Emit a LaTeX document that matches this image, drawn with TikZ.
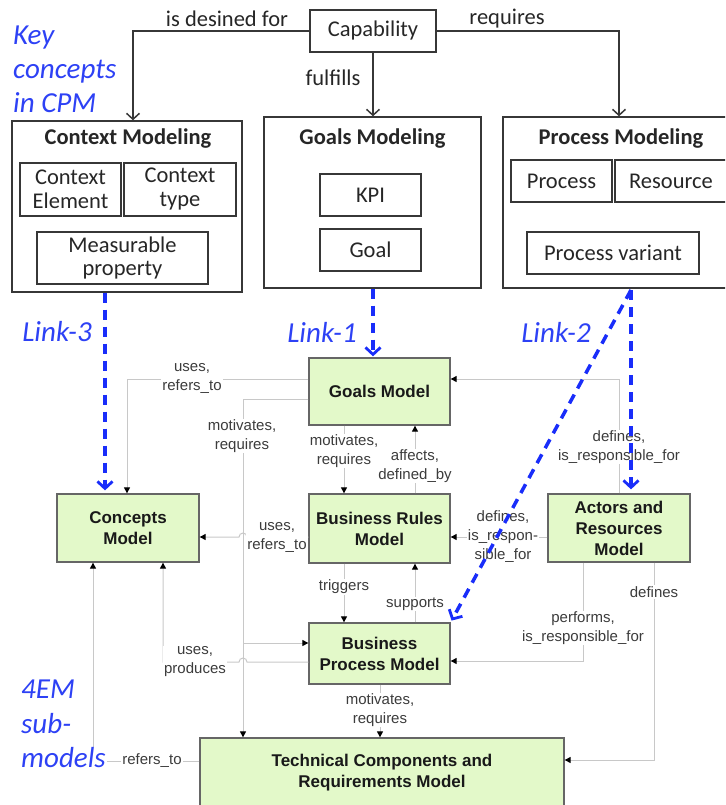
\documentclass[tikz,border=0pt]{standalone}
\usepackage{fontspec}
\setmainfont{Carlito}
\newfontfamily\arialf{Liberation Sans}
\usetikzlibrary{arrows.meta}
\definecolor{boxgreen}{RGB}{227,249,201}
\definecolor{linkblue}{RGB}{25,45,250}
\definecolor{linktext}{RGB}{45,65,245}
\definecolor{conngray}{RGB}{200,200,200}
\definecolor{labgray}{RGB}{60,60,60}
\definecolor{boxline}{RGB}{55,55,55}
\begin{document}
\begin{tikzpicture}[x=1pt,y=-1pt,
  cpmbox/.style={draw=boxline, line width=1.4pt, inner sep=0pt, align=center,
    font=\fontsize{22.5}{25}\selectfont, text=black!85},
  cpmtitle/.style={inner sep=0pt, font=\fontsize{22.5}{25}\selectfont\bfseries, text=black!85},
  toptext/.style={inner sep=0pt, font=\fontsize{22.5}{25}\selectfont, text=black!85},
  submodel/.style={draw=black!60, line width=1.3pt, fill=boxgreen, inner sep=0pt, align=center,
    font=\arialf\fontsize{17}{21}\selectfont\bfseries, text=black!90},
  bluelab/.style={inner sep=0pt, align=left, text=linktext,
    font=\fontsize{29}{34}\selectfont\itshape},
  glab/.style={fill=white, inner sep=1pt, align=center, text=labgray,
    font=\arialf\fontsize{15}{19}\selectfont},
  capar/.style={draw=boxline, line width=1.5pt, -{Straight Barb[length=6pt,width=13pt]}},
  conn/.style={draw=conngray, line width=1pt, -{Triangle[length=6pt,width=6pt,color=black]}},
  linkar/.style={draw=linkblue, line width=3.5pt, dash pattern=on 10pt off 7pt,
    -{Straight Barb[length=7pt,width=15pt,line width=2.8pt]}}
]
\useasboundingbox (0,0) rectangle (725,805);
\clip (0,0) rectangle (725,805);

% ---------- CPM part ----------
\node[cpmbox, minimum width=126pt, minimum height=42pt] (cap) at (373,31) {Capability};
\node[cpmbox, minimum width=230pt, minimum height=171pt] (ctxM) at (127,206.5) {};
\node[cpmbox, minimum width=217pt, minimum height=171pt] (goalsMg) at (372.5,202.5) {};
\node[cpmbox, minimum width=235pt, minimum height=171pt] (procMg) at (620.5,202.5) {};
\node[cpmtitle] (ctxT) at (128,139) {Context Modeling};
\node[cpmtitle] (goalsT) at (372.5,139) {Goals Modeling};
\node[cpmtitle] (procT) at (621,139) {Process Modeling};
\node[cpmbox, minimum width=101pt, minimum height=53pt] (ctxEl) at (70.5,189.5) {Context\\[-1pt]Element};
\node[cpmbox, minimum width=112pt, minimum height=53pt] (ctxTy) at (180,189.5) {Context\\[-1pt]type};
\node[cpmbox, minimum width=171pt, minimum height=52pt] (meas) at (122.5,258) {Measurable\\[-1pt]property};
\node[cpmbox, minimum width=101pt, minimum height=42pt] (kpi) at (370.5,195) {KPI};
\node[cpmbox, minimum width=101pt, minimum height=42pt] (goal) at (370.5,250) {Goal};
\node[cpmbox, minimum width=101pt, minimum height=42pt] (proc) at (561.5,181) {Process};
\node[cpmbox, minimum width=112pt, minimum height=42pt] (res) at (671,181) {Resource};
\node[cpmbox, minimum width=172pt, minimum height=42pt] (pvar) at (613,253) {Process variant};

\draw[capar] (cap.west) -| (ctxM.north -| 133,0);
\draw[capar] (cap.east) -| (procMg.north -| 619,0);
\draw[capar] (cap.south) -- (cap.south |- goalsMg.north);
\node[toptext] (lDes) at (227,19) {is desined for};
\node[toptext] (lReq) at (507,19) {requires};
\node[toptext] (lFul) at (333,78) {fulfills};

% ---------- blue labels ----------
\node[bluelab, anchor=west] (keyc) at (13,69) {Key\\concepts\\in CPM};
\node[bluelab] (l3) at (57,332) {Link-3};
\node[bluelab] (l1) at (322,332) {Link-1};
\node[bluelab] (l2) at (556,332) {Link-2};

% ---------- 4EM sub-models ----------
\node[submodel, minimum width=141pt, minimum height=67pt] (goalsM) at (379.5,391.5) {Goals Model};
\node[submodel, minimum width=142pt, minimum height=68pt] (concepts) at (128,528) {Concepts\\Model};
\node[submodel, minimum width=141pt, minimum height=69pt] (brm) at (379.5,528.5) {Business Rules\\Model};
\node[submodel, minimum width=142pt, minimum height=68pt] (actors) at (619,528) {Actors and\\Resources\\Model};
\node[submodel, minimum width=141pt, minimum height=61pt] (bpm) at (379.5,653.5) {Business\\Process Model};
\node[submodel, minimum width=364pt, minimum height=69pt] (tech) at (382,772.5) {Technical Components and\\Requirements Model};

% ---------- gray connectors ----------
\draw[conn] (goalsM.west |- 0,379) -| (concepts.north -| 127,0);
\draw[conn] (goalsM.west |- 0,399) -| (tech.north -| 243,0);
\draw[conn] (goalsM.west |- 0,399) -| (243,643) -- (bpm.west |- 0,643);
\draw[conn] (goalsM.south -| 344,0) -- (brm.north -| 344,0);
\draw[conn] (brm.north -| 415,0) -- (goalsM.south -| 415,0);
\draw[conn] (brm.west |- 0,537) -- (247,537) arc[start angle=0,end angle=-180,radius=4] -- (concepts.east |- 0,537);
\draw[conn] (actors.west |- 0,537) -- (brm.east |- 0,537);
\draw[conn] (actors.north -| 619,0) |- (goalsM.east |- 0,379);
\draw[conn] (brm.south -| 344,0) -- (bpm.north -| 344,0);
\draw[conn] (bpm.north -| 415,0) -- (brm.south -| 415,0);
\draw[conn] (bpm.west |- 0,662) -- (247,662) arc[start angle=0,end angle=-180,radius=4] -| (concepts.south -| 163,0);
\draw[conn] (actors.south -| 583,0) |- (bpm.east |- 0,661);
\draw[conn] (actors.south -| 654,0) |- (tech.east |- 0,760);
\draw[conn] (bpm.south -| 380,0) -- (tech.north -| 380,0);
\draw[conn] (tech.west |- 0,761) -| (concepts.south -| 93,0);

% ---------- 4EM label (last line covers the connector corner) ----------
\node[bluelab, anchor=west] (em1) at (21,689) {4EM};
\node[bluelab, anchor=west] (em2) at (21,724) {sub-};
\node[bluelab, anchor=west, fill=white, inner sep=1pt] (em3) at (20,758) {models};

% ---------- connector labels ----------
\node[glab] (g1) at (192,378) {uses,\\refers\_to};
\node[glab] (g2) at (242,436) {motivates,\\requires};
\node[glab] (g3) at (344,451) {motivates,\\requires};
\node[glab] (g4) at (415,466) {affects,\\defined\_by};
\node[glab] (g5) at (277,537) {uses,\\refers\_to};
\node[glab] (g6) at (503,537) {defines,\\is\_respon-\\sible\_for};
\node[glab] (g7) at (619,447) {defines,\\is\_responsible\_for};
\node[glab] (g8) at (344,587) {triggers};
\node[glab] (g9) at (415,604) {supports};
\node[glab] (g10) at (195,662) {uses,\\produces};
\node[glab] (g12) at (583,628) {performs,\\is\_responsible\_for};
\node[glab] (g13) at (654,592) {defines};
\node[glab] (g14) at (380,710) {motivates,\\requires};
\node[glab] (g15) at (152,761) {refers\_to};

% ---------- blue links ----------
\coordinate (pvs) at (631,290);
\draw[linkar, shorten >=3pt] (ctxM.south -| 105,0) -- (concepts.north -| 105,0);
\draw[linkar, shorten >=1pt] (goalsMg.south -| 373,0) -- (goalsM.north -| 373,0);
\draw[linkar, shorten >=4pt] (pvs) -- (actors.north -| 631,0);
\draw[linkar, shorten >=2pt] (pvs) -- (bpm.north east);
\end{tikzpicture}
\end{document}
